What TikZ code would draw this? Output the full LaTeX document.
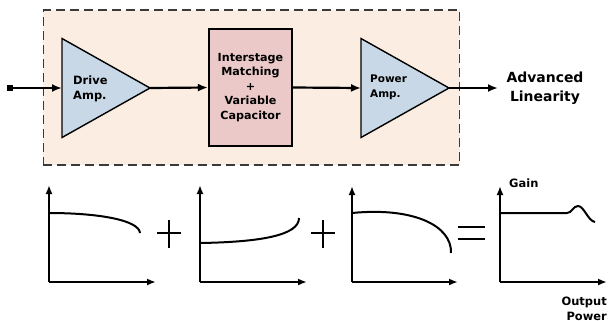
\documentclass[tikz,border=0pt]{standalone}
\usepackage{fontspec}
\setmainfont{DejaVu Sans}
\usepackage{xcolor}
\usetikzlibrary{shapes.geometric,arrows.meta,positioning,calc}

\definecolor{stagebg}{HTML}{FCEDE2}
\definecolor{ampfill}{HTML}{C8D8E6}
\definecolor{matchfill}{HTML}{EBC9C9}
\definecolor{dashgray}{HTML}{3A3A3A}

\begin{document}
\begin{tikzpicture}[
    x=1bp, y=-1bp,
    amp/.style={isosceles triangle, isosceles triangle stretches, shape border rotate=0, draw=black, line width=1.4bp, fill=ampfill, minimum width=99bp, minimum height=88bp, inner sep=0pt, outer sep=0pt},
    amptext/.style={align=left, font=\bfseries\fontsize{11.5}{15}\selectfont, anchor=west, inner sep=0pt},
    matchbox/.style={rectangle, draw=black, line width=2.2bp, fill=matchfill, minimum width=83bp, minimum height=117bp, align=center, font=\bfseries\fontsize{11.2}{14.6}\selectfont, inner sep=0pt},
    arrow/.style={-{Latex[length=10bp,width=8bp]}, line width=2.2bp},
    axis/.style={-{Latex[length=9bp,width=7bp]}, line width=2.2bp},
    curve/.style={line width=2bp}
]
\useasboundingbox (0,0) rectangle (608,320);

% dashed stage box
\node[draw=dashgray, line width=1.6bp, dash pattern=on 9bp off 5bp, fill=stagebg, minimum width=416bp, minimum height=155bp, inner sep=0pt] (stage) at (251.5,87.5) {};

% amplifier chain
\coordinate (in) at (10,88);
\fill (in) ++(-3,-3) rectangle ++(6,6);
\node[amp, anchor=west] (drive) at (62,88) {};
\node[amptext] (drivelbl) at (73,88.5) {Drive\\Amp.};
\node[matchbox] (match) at (250.5,87.5) {Interstage\\Matching\\+\\Variable\\Capacitor};
\node[amp, anchor=west] (power) at (361,88) {};
\node[amptext, font=\bfseries\fontsize{10.5}{15}\selectfont] (powerlbl) at (370,87.5) {Power\\Amp.};
\node[align=center, font=\bfseries\fontsize{14}{19}\selectfont] (lin) at (545,88) {Advanced\\Linearity};
\coordinate (out) at (498,88);

\draw[arrow] (in) -- (drive.west);
\draw[arrow] (drive.east) -- (match.west);
\draw[arrow] (match.east) -- (power.west);
\draw[arrow] (power.east) -- (out);

% gain curves
\draw[axis] (49,282) -- (49,185);
\draw[axis] (49,282) -- (156,282);
\draw[curve] (49,213) .. controls (98,213) and (139,220) .. (140,233);

\draw[line width=1.6bp] (157,233) -- (181,233) (169,220) -- (169,248);

\draw[axis] (200,282) -- (200,185);
\draw[axis] (200,282) -- (307,282);
\draw[curve] (200,243) .. controls (262,242) and (299,235) .. (299,218);

\draw[line width=1.6bp] (311,233) -- (335,233) (323,220) -- (323,248);

\draw[axis] (352,282) -- (352,186);
\draw[axis] (352,282) -- (458,282);
\draw[curve] (352,213) .. controls (412,207) and (452,225) .. (451,253);

\draw[line width=1.6bp] (458,227) -- (485,227) (458,239) -- (485,239);

\draw[axis] (500,282) -- (500,186);
\draw[axis] (500,282) -- (607,282);
\draw[curve] (500,213) -- (567,213) .. controls (572,213) and (573,206) .. (578,206) .. controls (584,206) and (588,221) .. (595,222);

\node[font=\bfseries\fontsize{11.5}{12}\selectfont, anchor=west, inner sep=0pt] (gain) at (509,183) {Gain};
\node[font=\bfseries\fontsize{11.5}{15}\selectfont, align=right, anchor=north east, inner sep=0pt] (outpow) at (607,297) {Output\\Power};

\end{tikzpicture}
\end{document}
